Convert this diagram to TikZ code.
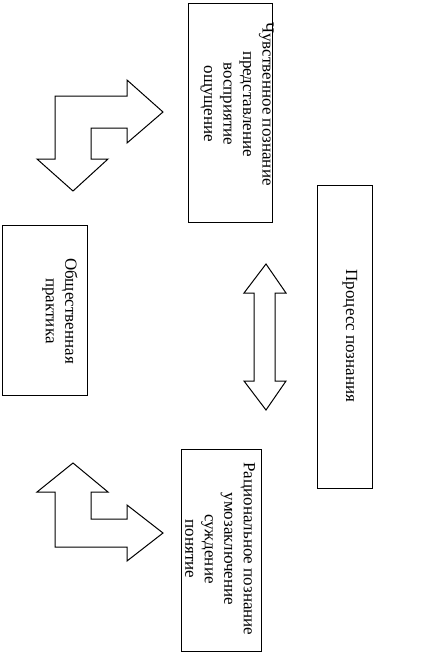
\documentclass[tikz,border=0pt]{standalone}
\usepackage{fontspec}
\setmainfont{Liberation Serif}
\begin{document}
\begin{tikzpicture}[x=1pt,y=-1pt,
  box/.style={draw, line width=1pt, inner sep=0pt, outer sep=0pt},
  lbl/.style={rotate=-90, align=center, inner sep=0pt, font=\fontsize{17}{19.5}\selectfont},
  blk/.style={draw, line width=1pt, line join=miter, fill=white}]
\useasboundingbox (0,0) rectangle (432,662);
% boxes
\node[box, minimum width=84pt, minimum height=219pt] (b1) at (230,112.5) {};
\node[box, minimum width=85pt, minimum height=170pt] (b2) at (44.5,310) {};
\node[box, minimum width=55pt, minimum height=303pt] (b3) at (344.5,336.5) {};
\node[box, minimum width=80pt, minimum height=202pt] (b4) at (221,550) {};
% texts
\node[lbl] (t1) at (237,104) {Чувственное познание\\представление\\восприятие\\ощущение};
\node[lbl] (t2) at (60,311) {Общественная\\практика};
\node[lbl] (t3) at (350,336) {Процесс познания};
\node[lbl] (t4) at (220,549) {Рациональное познание\\умозаключение\\суждение\\понятие};
% top bent arrow
\draw[blk] (55,159) -- (55,96) -- (127,96) -- (127,80) -- (163,112) -- (127,143) -- (127,128)
  -- (91,128) -- (91,159) -- (108,159) -- (73,191) -- (37,159) -- cycle;
% bottom bent arrow
\draw[blk] (55,492) -- (37,492) -- (73,463) -- (108,492) -- (91,492) -- (91,519) -- (127,519)
  -- (127,505) -- (163,533) -- (127,561) -- (127,547) -- (55,547) -- cycle;
% double arrow
\draw[blk] (266,264) -- (286,293) -- (275,293) -- (275,381) -- (286,381) -- (266,410)
  -- (244,381) -- (254,381) -- (254,293) -- (244,293) -- cycle;
\end{tikzpicture}
\end{document}
